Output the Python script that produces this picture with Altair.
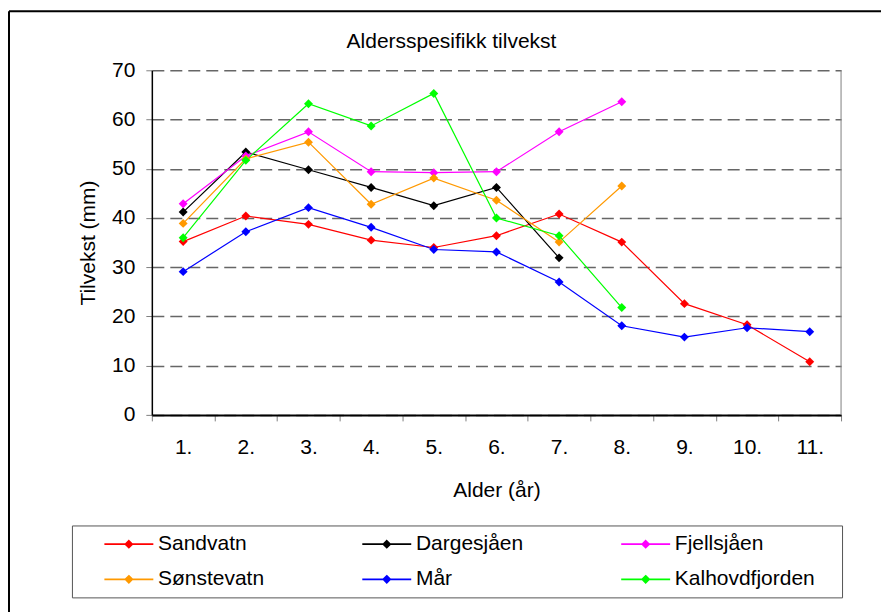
import altair as alt
import pandas as pd

ages = ["1.", "2.", "3.", "4.", "5.", "6.", "7.", "8.", "9.", "10.", "11."]
series_names = ["Sandvatn", "Dargesjåen", "Fjellsjåen", "Sønstevatn", "Mår", "Kalhovdfjorden"]
series_colors = ["#FF0000", "#000000", "#FF00FF", "#FF9900", "#0000FF", "#00FF00"]

sandvatn = [35.2, 40.4, 38.7, 35.5, 34.0, 36.4, 40.8, 35.1, 22.6, 18.3, 10.8]
dargesjaen = [41.2, 53.4, 49.8, 46.2, 42.5, 46.2, 31.9]
fjellsjaen = [42.9, 52.6, 57.5, 49.4, 49.2, 49.4, 57.5, 63.6]
sonstevatn = [38.9, 52.0, 55.4, 42.8, 48.1, 43.6, 35.1, 46.5]
maar = [29.1, 37.2, 42.1, 38.1, 33.6, 33.1, 27.0, 18.1, 15.8, 17.7, 16.9]
kalhovdfjorden = [36.0, 51.7, 63.2, 58.7, 65.3, 40.0, 36.4, 21.8]

y_ticks = [0, 10, 20, 30, 40, 50, 60, 70]
chart_title = "Aldersspesifikk tilvekst"

all_series = [sandvatn, dargesjaen, fjellsjaen, sonstevatn, maar, kalhovdfjorden]
rows = []
for name, vals in zip(series_names, all_series):
    for age, v in zip(ages, vals):
        rows.append({"Alder": age, "Tilvekst": v, "Serie": name})
df = pd.DataFrame(rows)

# the legend fills column by column: order the scale so it reads row by row
legend_order = [series_names[i] for i in (0, 3, 1, 4, 2, 5)]
legend_colors = [series_colors[series_names.index(n)] for n in legend_order]

FONT = "Liberation Sans"
FS = 21
W, H = 690, 345

x_enc = alt.X("Alder:N", sort=ages,
              scale=alt.Scale(type="band", paddingInner=0, paddingOuter=0),
              axis=alt.Axis(title="Alder (år)", labelAngle=0, tickBand="extent",
                            domainColor="black", domainWidth=2, tickColor="#808080",
                            tickSize=6, tickWidth=1, labelPadding=16, titlePadding=22,
                            grid=False))
y_enc = alt.Y("Tilvekst:Q", scale=alt.Scale(domain=[0, 70], nice=False),
              axis=alt.Axis(title="Tilvekst (mm)", values=y_ticks, grid=True,
                            gridDash=[12, 6], gridColor="#666666", gridWidth=1.5,
                            domainColor="black", domainWidth=1.5, tickColor="#808080",
                            tickSize=6, tickWidth=1, labelPadding=11, titlePadding=13))

# line through the symbol plus a filled-looking diamond (two nested outlines)
legend_path = ("M3.5,0L15.75,0"
               "M9.625,-0.85L10.475,0L9.625,0.85L8.775,0Z"
               "M9.625,-0.4L10.025,0L9.625,0.4L9.225,0Z")
leg = alt.Legend(title=" ", titleOrient="right", titlePadding=19, titleFontSize=FS,
                 orient="none", legendX=-80, legendY=455.7,
                 columns=3, columnPadding=73.2, rowPadding=13.4,
                 padding=8, strokeColor="#555555", fillColor="white",
                 symbolType=legend_path, symbolSize=64, symbolStrokeWidth=1.8,
                 labelOffset=57.2, labelFont=FONT, labelFontSize=FS,
                 labelColor="black", labelLimit=300)

col_scale = alt.Scale(domain=legend_order, range=legend_colors)

lines = alt.Chart(df).mark_line(strokeWidth=1.2).encode(
    x=x_enc, y=y_enc,
    color=alt.Color("Serie:N", scale=col_scale, legend=leg),
)
points = alt.Chart(df).mark_point(shape="diamond", filled=True, size=80,
                                  opacity=1).encode(
    x=x_enc, y=y_enc,
    color=alt.Color("Serie:N", scale=col_scale, legend=leg),
)

one = pd.DataFrame({"k": [0]})
frame_top = alt.Chart(one).mark_rule(color="black", strokeWidth=2).encode(
    x=alt.value(-143), x2=alt.value(730), y=alt.value(-59))
frame_left = alt.Chart(one).mark_rule(color="black", strokeWidth=2).encode(
    x=alt.value(-143), y=alt.value(-59), y2=alt.value(560))
right_border = alt.Chart(one).mark_rule(color="#808080", strokeWidth=1).encode(
    x=alt.value(W), y=alt.value(0), y2=alt.value(H))
title_text = alt.Chart(one).mark_text(font=FONT, fontSize=FS, color="black",
                                      align="center", baseline="alphabetic").encode(
    x=alt.value(300), y=alt.value(-22.7), text=alt.value(chart_title))

chart = alt.layer(frame_top, frame_left, right_border, title_text, lines, points).properties(
    width=W, height=H,
    padding={"left": 0, "top": 2, "right": 0, "bottom": 0},
).configure_view(stroke=None).configure_axis(
    labelFont=FONT, labelFontSize=FS, labelColor="black",
    titleFont=FONT, titleFontSize=FS, titleFontWeight="normal", titleColor="black",
)

chart.save("out.html", embed_options={"renderer": "svg", "actions": False})
